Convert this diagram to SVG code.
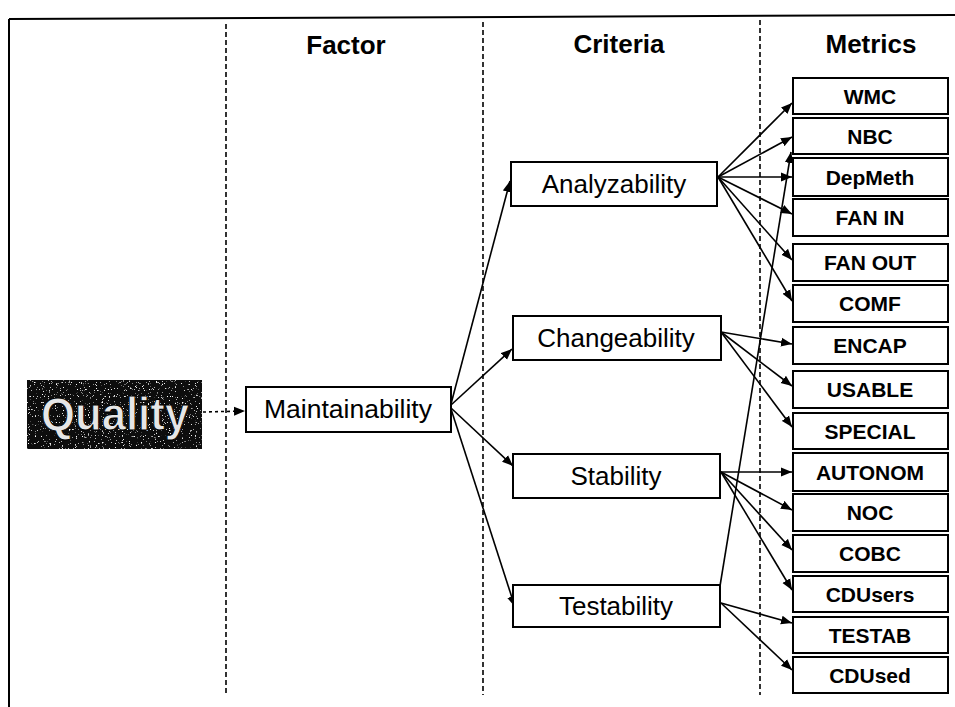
<svg xmlns="http://www.w3.org/2000/svg" width="955" height="707" viewBox="0 0 955 707">
  <style>
    .frame { stroke: #000; stroke-width: 2; fill: none; }
    .lane { stroke: #000; stroke-width: 1.6; stroke-dasharray: 5 3; fill: none; }
    .head { font-family: "Liberation Sans", Arial, sans-serif; font-weight: bold; font-size: 26px; text-anchor: middle; fill: #000; }
    .box { fill: #fff; stroke: #000; stroke-width: 2; }
    .crit { font-family: "Liberation Sans", Arial, sans-serif; font-size: 26px; text-anchor: middle; fill: #000; }
    .metric { font-family: "Liberation Sans", Arial, sans-serif; font-weight: bold; font-size: 21px; text-anchor: middle; fill: #000; }
    .edge { stroke: #000; stroke-width: 1.6; fill: none; marker-end: url(#arrow); }
    .dotted { stroke: #000; stroke-width: 1.6; stroke-dasharray: 3 3; fill: none; marker-end: url(#arrow); }
  </style>
  <defs>
    <marker id="arrow" markerUnits="userSpaceOnUse" markerWidth="12" markerHeight="10" refX="11" refY="5" orient="auto">
      <path d="M0,0.5 L11,5 L0,9.5 z" fill="#000"/>
    </marker>
    <!-- light speckle over the dark title block -->
    <filter id="speckle" x="0" y="0" width="100%" height="100%">
      <feTurbulence type="fractalNoise" baseFrequency="0.85" numOctaves="1" seed="7" result="noise"/>
      <feColorMatrix in="noise" type="matrix" values="0 0 0 0 1  0 0 0 0 1  0 0 0 0 1  10 0 0 0 -6.4" result="dots"/>
      <feComposite in="dots" in2="SourceGraphic" operator="in" result="clipped"/>
      <feMerge><feMergeNode in="SourceGraphic"/><feMergeNode in="clipped"/></feMerge>
    </filter>
  </defs>

  <rect x="0" y="0" width="955" height="707" fill="#fff"/>

  <!-- outer frame: top and left edges only -->
  <g id="frame">
    <line class="frame" x1="9" y1="19" x2="955" y2="15"/>
    <line class="frame" x1="9" y1="19" x2="9" y2="707"/>
  </g>

  <!-- column separators -->
  <g id="lanes">
    <line class="lane" x1="226" y1="24" x2="226" y2="695"/>
    <line class="lane" x1="483" y1="22" x2="483" y2="695"/>
    <line class="lane" x1="760" y1="20" x2="760" y2="695"/>
  </g>

  <!-- column headings -->
  <g id="headings">
    <text class="head" x="346" y="54">Factor</text>
    <text class="head" x="619" y="53">Criteria</text>
    <text class="head" x="871" y="53">Metrics</text>
  </g>

  <!-- connectors -->
  <g id="connectors">
    <line class="dotted" x1="203" y1="412" x2="245" y2="411"/>

    <line class="edge" x1="451" y1="404" x2="510" y2="181"/>
    <line class="edge" x1="451" y1="405" x2="512" y2="349"/>
    <line class="edge" x1="451" y1="408" x2="513" y2="466"/>
    <line class="edge" x1="451" y1="409" x2="515" y2="607"/>

    <line class="edge" x1="718" y1="177" x2="792" y2="103"/>
    <line class="edge" x1="718" y1="177" x2="792" y2="137"/>
    <line class="edge" x1="718" y1="177" x2="792" y2="177"/>
    <line class="edge" x1="718" y1="177" x2="792" y2="214"/>
    <line class="edge" x1="718" y1="177" x2="792" y2="260"/>
    <line class="edge" x1="718" y1="177" x2="792" y2="301"/>

    <line class="edge" x1="721" y1="332" x2="792" y2="344"/>
    <line class="edge" x1="721" y1="332" x2="792" y2="386"/>
    <line class="edge" x1="721" y1="332" x2="792" y2="427"/>

    <line class="edge" x1="721" y1="472" x2="792" y2="472"/>
    <line class="edge" x1="721" y1="472" x2="792" y2="510"/>
    <line class="edge" x1="721" y1="472" x2="792" y2="550"/>
    <line class="edge" x1="721" y1="472" x2="792" y2="590"/>

    <line class="edge" x1="721" y1="603" x2="792" y2="623"/>
    <line class="edge" x1="721" y1="603" x2="792" y2="670"/>
    <line class="edge" x1="720" y1="586" x2="791" y2="152"/>
  </g>

  <!-- quality -->
  <g id="quality">
    <rect x="27" y="380" width="175" height="69" fill="#111" filter="url(#speckle)"/>
    <text x="115" y="430" font-family="Liberation Sans, Arial, sans-serif" font-weight="bold" font-size="46" text-anchor="middle" fill="#e6e6e6" stroke="#000" stroke-width="1" textLength="148" lengthAdjust="spacingAndGlyphs">Quality</text>
  </g>

  <!-- factor -->
  <g id="maintainability">
    <rect class="box" x="246" y="387" width="205" height="45"/>
    <text class="crit" x="348" y="418" textLength="168" lengthAdjust="spacingAndGlyphs">Maintainability</text>
  </g>

  <!-- criteria -->
  <g id="analyzability">
    <rect class="box" x="511" y="162" width="206" height="44"/>
    <text class="crit" x="614" y="193">Analyzability</text>
  </g>
  <g id="changeability">
    <rect class="box" x="513" y="316" width="208" height="44"/>
    <text class="crit" x="616" y="347">Changeability</text>
  </g>
  <g id="stability">
    <rect class="box" x="513" y="454" width="207" height="44"/>
    <text class="crit" x="616" y="485">Stability</text>
  </g>
  <g id="testability">
    <rect class="box" x="513" y="585" width="207" height="42"/>
    <text class="crit" x="616" y="615">Testability</text>
  </g>

  <!-- metrics -->
  <g id="wmc"><rect class="box" x="793" y="78" width="155" height="36"/><text class="metric" x="870" y="104">WMC</text></g>
  <g id="nbc"><rect class="box" x="793" y="118" width="155" height="36"/><text class="metric" x="870" y="144">NBC</text></g>
  <g id="depmeth"><rect class="box" x="793" y="158" width="155" height="38"/><text class="metric" x="870" y="185">DepMeth</text></g>
  <g id="fan-in"><rect class="box" x="793" y="199" width="155" height="37"/><text class="metric" x="870" y="225">FAN IN</text></g>
  <g id="fan-out"><rect class="box" x="793" y="244" width="155" height="37"/><text class="metric" x="870" y="270">FAN OUT</text></g>
  <g id="comf"><rect class="box" x="793" y="285" width="155" height="37"/><text class="metric" x="870" y="311">COMF</text></g>
  <g id="encap"><rect class="box" x="793" y="327" width="155" height="37"/><text class="metric" x="870" y="353">ENCAP</text></g>
  <g id="usable"><rect class="box" x="793" y="371" width="155" height="37"/><text class="metric" x="870" y="397">USABLE</text></g>
  <g id="special"><rect class="box" x="793" y="413" width="155" height="36"/><text class="metric" x="870" y="439">SPECIAL</text></g>
  <g id="autonom"><rect class="box" x="793" y="453" width="155" height="38"/><text class="metric" x="870" y="480">AUTONOM</text></g>
  <g id="noc"><rect class="box" x="793" y="494" width="155" height="37"/><text class="metric" x="870" y="520">NOC</text></g>
  <g id="cobc"><rect class="box" x="793" y="535" width="155" height="37"/><text class="metric" x="870" y="561">COBC</text></g>
  <g id="cdusers"><rect class="box" x="793" y="576" width="155" height="36"/><text class="metric" x="870" y="602">CDUsers</text></g>
  <g id="testab"><rect class="box" x="793" y="617" width="155" height="36"/><text class="metric" x="870" y="643">TESTAB</text></g>
  <g id="cdused"><rect class="box" x="793" y="657" width="155" height="36"/><text class="metric" x="870" y="683">CDUsed</text></g>
</svg>
